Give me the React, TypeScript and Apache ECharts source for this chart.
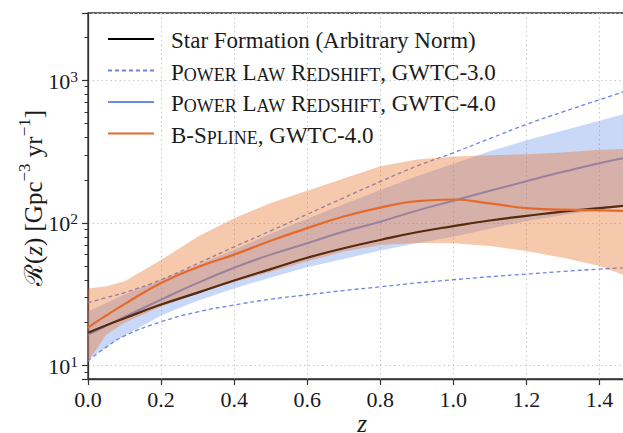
import React, { useEffect, useRef } from 'react';
import * as echarts from 'echarts';

// redshift samples
const zs = [0, 0.05, 0.1, 0.2, 0.3, 0.4, 0.5, 0.6, 0.7, 0.8, 0.9, 1.0, 1.1, 1.2, 1.3, 1.4, 1.5];

// Star formation (arbitrary norm)
const starFormation = [17, 19.2, 21.5, 26.8, 32.5, 39.5, 47.5, 57, 66.5, 76, 86, 95, 104, 112, 120, 127, 134];

// Power law redshift, GWTC-3.0 (90% bounds, dashed)
const plGwtc3Upper = [27.6, 30, 32.5, 40, 52, 68, 88, 115, 150, 195, 250, 310, 390, 490, 600, 730, 885];
const plGwtc3Lower = [10.8, 13.5, 16.2, 20.3, 23.8, 26.6, 29.2, 31.4, 33.6, 35.7, 38, 40, 42, 43.8, 45.7, 47.5, 49];

// Power law redshift, GWTC-4.0
const plGwtc4Median = [16.5, 19, 22, 29, 38, 48.5, 60, 72, 87, 102, 122, 143, 168, 196, 228, 262, 295];
const plGwtc4Lower = [11, 13.5, 16.3, 22.5, 28.5, 34.8, 41.5, 49, 56, 64, 72, 80, 91, 103, 113, 123, 133];
const plGwtc4Upper = [24, 27.5, 31.5, 40, 51, 65, 84, 107, 135, 170, 212, 260, 318, 380, 445, 520, 610];

// B-Spline, GWTC-4.0
const bsplineMedian = [18.5, 22.5, 27, 38, 49, 60, 75, 92, 111, 128, 142, 146, 137, 127, 124, 122.5, 121];
const bsplineLower = [10.7, 16.5, 20, 26, 32, 38.5, 45.5, 54, 63, 70, 72.5, 72, 69, 63.5, 57, 50, 40];
const bsplineUpper = [34.8, 36, 39, 55, 80, 108, 138, 168, 205, 250, 278, 292, 298, 303, 312, 325, 333];

const xTicks = [0, 0.2, 0.4, 0.6, 0.8, 1.0, 1.2, 1.4];

const NAME_SF = 'Star Formation (Arbitrary Norm)';
const NAME_PL3 = 'Power Law Redshift, GWTC-3.0';
const NAME_PL4 = 'Power Law Redshift, GWTC-4.0';
const NAME_BS = 'B-Spline, GWTC-4.0';

const legendLabels: Record<string, string> = {
  [NAME_SF]: '{n|Star Formation (Arbitrary Norm)}',
  [NAME_PL3]: '{n|P}{c|OWER}{n| L}{c|AW}{n| R}{c|EDSHIFT}{n|, GWTC-3.0}',
  [NAME_PL4]: '{n|P}{c|OWER}{n| L}{c|AW}{n| R}{c|EDSHIFT}{n|, GWTC-4.0}',
  [NAME_BS]: '{n|B-S}{c|PLINE}{n|, GWTC-4.0}',
};

const SERIF = '"Liberation Serif", "DejaVu Serif", serif';
const TXT = '#1a1a1a';

const pairs = (vals: number[]) => zs.map((z, i) => [z, vals[i]]);

const BLUE = '#6a8ce8';
const DASH = '#6f82e4';
const ORANGE = '#e6692c';

function bandSeries(lower: number[], upper: number[], fill: string, z: number): any {
  return {
    type: 'custom',
    silent: true,
    clip: true,
    z,
    data: [[0.5, 100]],
    renderItem: (params: any, api: any) => {
      const top = zs.map((x, i) => api.coord([x, upper[i]]));
      const bot = zs.map((x, i) => api.coord([x, lower[i]])).reverse();
      const cs = params.coordSys;
      return {
        type: 'polygon',
        shape: { points: top.concat(bot) },
        style: { fill, stroke: 'none' },
        clipPath: { type: 'rect', shape: { x: cs.x, y: cs.y, width: cs.width, height: cs.height } },
      };
    },
  };
}

function buildOption(): any {
  const base = { type: 'line', smooth: true, symbol: 'none', silent: true };
  return {
    animation: false,
    grid: {
      left: 88, top: 13, bottom: 54, right: -13,
      containLabel: false, outerBoundsMode: 'none',
      show: true, borderColor: '#333', borderWidth: 1.3, backgroundColor: 'transparent',
    },
    legend: {
      data: [NAME_SF, NAME_PL3, NAME_PL4, NAME_BS],
      orient: 'vertical', left: 107, top: 29, padding: 0,
      itemGap: 8.5, itemWidth: 46, itemHeight: 14,
      itemStyle: { opacity: 0 },
      formatter: (name: string) => legendLabels[name] || name,
      textStyle: {
        color: TXT, padding: [0, 0, 0, 12],
        rich: {
          n: { fontSize: 23, fontFamily: SERIF, color: TXT, lineHeight: 26, verticalAlign: 'bottom' },
          c: { fontSize: 18, fontFamily: SERIF, color: TXT, lineHeight: 23, verticalAlign: 'bottom' },
        },
      },
      selectedMode: false,
    },
    xAxis: {
      type: 'value', min: 0, max: 1.5, interval: 0.2,
      axisLine: { show: true, onZero: false, lineStyle: { color: '#333', width: 1.3 } },
      axisTick: { show: true, length: 6, lineStyle: { color: '#333', width: 1.2 } },
      axisLabel: {
        interval: 0, margin: 9, fontSize: 22, fontFamily: SERIF, color: TXT, showMaxLabel: false,
        formatter: (v: number) => (xTicks.some((t) => Math.abs(t - v) < 1e-6) ? v.toFixed(1) : ''),
      },
      splitLine: { show: true, lineStyle: { color: '#c8c8c8', type: [1.5, 3], width: 1 } },
      name: 'z', nameLocation: 'middle', nameGap: 35, nameMoveOverlap: false,
      nameTextStyle: { fontSize: 25, lineHeight: 18, fontFamily: SERIF, fontStyle: 'italic', color: TXT },
    },
    yAxis: {
      type: 'log', logBase: 10, min: 8.07, max: 2955,
      axisLine: { show: true, onZero: false, lineStyle: { color: '#333', width: 1.3 } },
      axisTick: { show: true, length: 6, lineStyle: { color: '#333', width: 1.2 } },
      minorTick: { show: true, splitNumber: 9, length: 3.5, lineStyle: { color: '#333', width: 1 } },
      minorSplitLine: { show: false },
      axisLabel: {
        margin: 10, showMinLabel: false, showMaxLabel: false,
        formatter: (v: number) => {
          const e = Math.log10(v);
          if (Math.abs(e - Math.round(e)) > 1e-6) return '';
          return '{b|10}{s|' + Math.round(e) + '}';
        },
        rich: {
          b: { fontSize: 22, fontFamily: SERIF, color: TXT, lineHeight: 24, verticalAlign: 'bottom' },
          s: { fontSize: 15.5, fontFamily: SERIF, color: TXT, lineHeight: 16, verticalAlign: 'top' },
        },
      },
      splitLine: { show: true, lineStyle: { color: '#c8c8c8', type: [1.5, 3], width: 1 } },
      name: '{n|ℛ(}{i|z}{n|) [Gpc}{s|−3}{n| yr}{s|−1}{n|]}',
      nameLocation: 'middle', nameRotate: 90, nameGap: 42, nameMoveOverlap: false,
      nameTextStyle: {
        padding: [0, 4, 0, 0],
        rich: {
          n: { fontSize: 25, fontFamily: SERIF, color: TXT, lineHeight: 30, verticalAlign: 'bottom' },
          i: { fontSize: 25, fontFamily: SERIF, fontStyle: 'italic', color: TXT, lineHeight: 30, verticalAlign: 'bottom' },
          s: { fontSize: 17, fontFamily: SERIF, color: TXT, lineHeight: 18, verticalAlign: 'top' },
        },
      },
    },
    series: [
      // blue band (GWTC-4.0 power law 90%)
      bandSeries(plGwtc4Lower, plGwtc4Upper, 'rgba(100,140,235,0.34)', 1),
      // GWTC-3.0 dashed bounds
      {
        ...base, z: 2, name: NAME_PL3, data: pairs(plGwtc3Upper),
        lineStyle: { color: DASH, width: 1.3, type: [4, 3] }, itemStyle: { color: DASH },
      },
      {
        ...base, z: 2, name: NAME_PL3, data: pairs(plGwtc3Lower),
        lineStyle: { color: DASH, width: 1.3, type: [4, 3] }, itemStyle: { color: DASH },
      },
      // GWTC-4.0 median
      {
        ...base, z: 2, name: NAME_PL4, data: pairs(plGwtc4Median),
        lineStyle: { color: BLUE, width: 2 }, itemStyle: { color: BLUE },
      },
      // Star formation
      {
        ...base, z: 2, name: NAME_SF, data: pairs(starFormation),
        lineStyle: { color: '#000', width: 2.2 }, itemStyle: { color: '#000' },
      },
      // B-spline band
      bandSeries(bsplineLower, bsplineUpper, 'rgba(232,112,40,0.38)', 3),
      // B-spline median
      {
        ...base, z: 4, name: NAME_BS, data: pairs(bsplineMedian),
        lineStyle: { color: ORANGE, width: 2.2 }, itemStyle: { color: ORANGE },
      },
    ],
  };
}

export default function App() {
  const ref = useRef<HTMLDivElement>(null);
  useEffect(() => {
    if (!ref.current) return;
    const chart = echarts.init(ref.current, null, { renderer: 'svg' });
    chart.setOption(buildOption());
    return () => chart.dispose();
  }, []);
  return (
    <div
      ref={ref}
      style={{ position: 'fixed', left: 0, top: 0, width: 623, height: 433, background: '#fff' }}
    />
  );
}
